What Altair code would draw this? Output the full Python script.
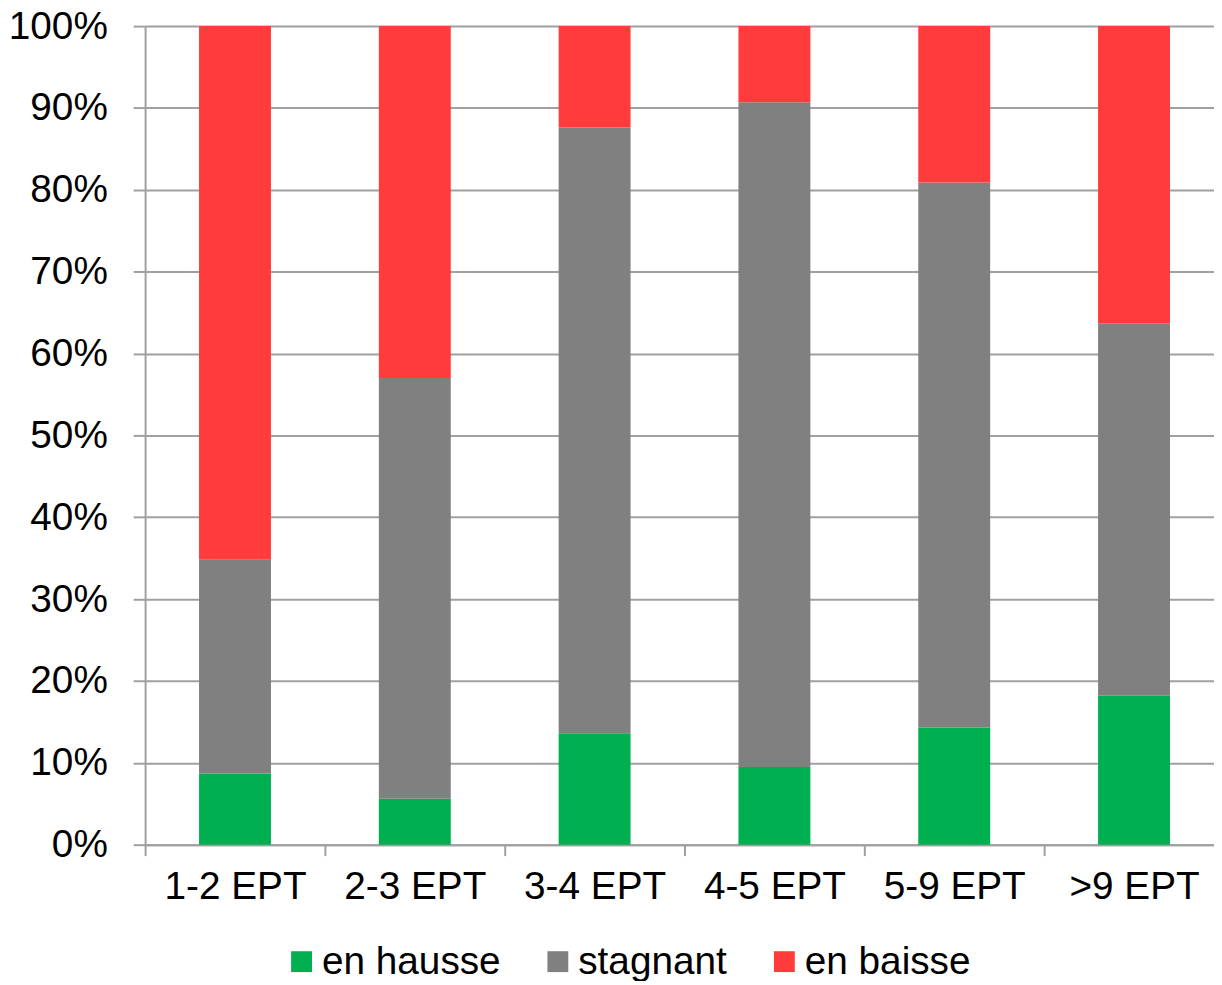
import altair as alt
import pandas as pd

categories = ["1-2 EPT", "2-3 EPT", "3-4 EPT", "4-5 EPT", "5-9 EPT", ">9 EPT"]
series = ["en hausse", "stagnant", "en baisse"]
en_hausse = [8.7, 5.6, 13.6, 9.5, 14.3, 18.2]
stagnant = [26.1, 51.4, 74.0, 81.2, 66.6, 45.5]
en_baisse = [65.2, 43.0, 12.4, 9.3, 19.1, 36.3]
colors = ["#00B050", "#808080", "#FF3B3B"]
y_ticks = [0, 0.1, 0.2, 0.3, 0.4, 0.5, 0.6, 0.7, 0.8, 0.9, 1.0]

rows = []
for i, c in enumerate(categories):
    for k, vals in enumerate([en_hausse, stagnant, en_baisse]):
        rows.append({"cat": c, "serie": series[k], "val": vals[i], "ord": k})
df = pd.DataFrame(rows)

FONT = "Liberation Sans"
GRID = "#A0A0A0"

chart = (
    alt.Chart(df)
    .mark_bar()
    .encode(
        x=alt.X(
            "cat:N",
            sort=categories,
            title=None,
            scale=alt.Scale(range=[0, 1086], paddingInner=0.6, paddingOuter=0.3),
            axis=alt.Axis(
                labelAngle=0,
                tickOffset=-90.5,
                labelOffset=90.5,
                tickSize=11,
                labelPadding=12,
                grid=False,
                domainColor=GRID,
                domainWidth=2,
                tickColor=GRID,
                tickWidth=2,
                labelFont=FONT,
                labelFontSize=39,
                labelColor="#000000",
            ),
        ),
        y=alt.Y(
            "val:Q",
            stack="normalize",
            title=None,
            scale=alt.Scale(domain=[0, 1], nice=False),
            axis=alt.Axis(
                values=y_ticks,
                format=".0%",
                tickSize=12,
                labelPadding=26,
                grid=True,
                gridColor=GRID,
                gridWidth=2,
                domainColor=GRID,
                domainWidth=2,
                tickColor=GRID,
                tickWidth=2,
                labelFont=FONT,
                labelFontSize=39,
                labelColor="#000000",
            ),
        ),
        color=alt.Color(
            "serie:N",
            scale=alt.Scale(domain=series, range=colors),
            legend=alt.Legend(
                orient="none",
                legendX=138,
                legendY=922,
                direction="horizontal",
                title=None,
                symbolType="square",
                symbolSize=441,
                symbolStrokeWidth=0,
                symbolOpacity=1,
                labelFont=FONT,
                labelFontSize=39,
                labelLimit=400,
                labelColor="#000000",
                labelOffset=1,
                columnPadding=38,
                padding=0,
            ),
        ),
        order=alt.Order("ord:Q", sort="ascending"),
    )
    .properties(
        width=1076,
        height=824,
        autosize=alt.AutoSizeParams(type="none"),
        padding={"left": 138, "top": 15, "right": 0, "bottom": 134},
    )
    .configure_view(stroke="transparent")
    .configure(background="#FFFFFF")
)

chart.save("out.html", embed_options={"renderer": "svg", "actions": False})
